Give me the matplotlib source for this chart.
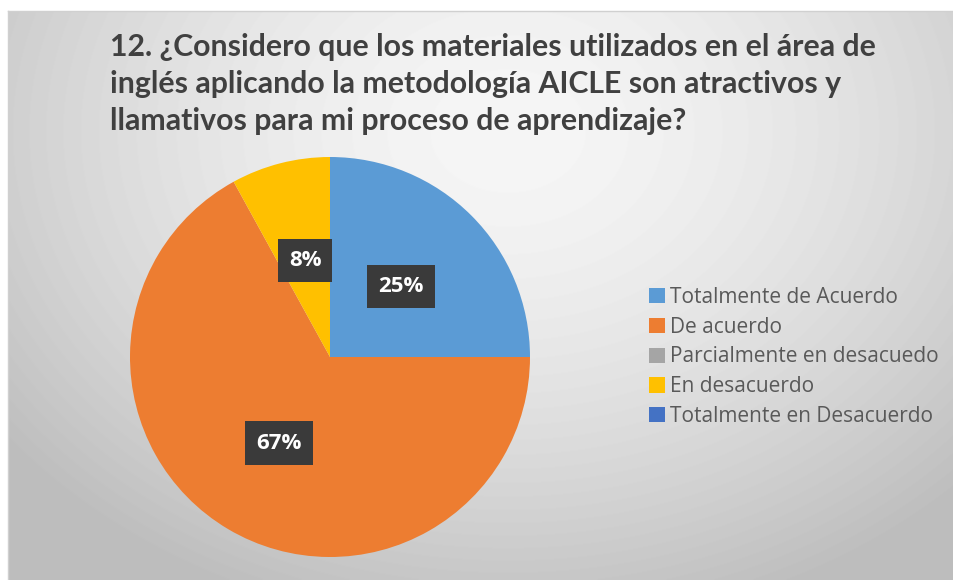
import numpy as np
import matplotlib
matplotlib.use('Agg')
import matplotlib.pyplot as plt

# --- data ---
categories = ['Totalmente de Acuerdo', 'De acuerdo', 'Parcialmente en desacuedo',
              'En desacuerdo', 'Totalmente en Desacuerdo']
percentages = [25, 67, 0, 8, 0]
colors = ['#5B9BD5', '#ED7D31', '#A5A5A5', '#FFC000', '#4472C4']
title = ('12. ¿Considero que los materiales utilizados en el área de\n'
         'inglés aplicando la metodología AICLE son atractivos y\n'
         'llamativos para mi proceso de aprendizaje?')

W, H = 954, 580
fig = plt.figure(figsize=(W / 100, H / 100), dpi=100, facecolor='white')

# background panel with soft radial gradient
bg = fig.add_axes([8 / W, 0, (W - 8) / W, (H - 11) / H])
yy, xx = np.mgrid[0:H - 11, 0:W - 8]
r = np.sqrt(((xx - 500) / 480.0) ** 2 + ((yy - 120) / 380.0) ** 2)
shade = np.clip(246 - 36 * r ** 1.6, 190, 250) / 255.0
bg.imshow(shade, cmap='gray', vmin=0, vmax=1, aspect='auto',
          extent=[0, 1, 0, 1], origin='upper')
bg.set_axis_off()
fig.add_artist(plt.Line2D([8 / W, 1], [1 - 11 / H, 1 - 11 / H],
                          color='#d0d0d0', linewidth=1))
fig.add_artist(plt.Line2D([8 / W, 8 / W], [0, 1 - 11 / H],
                          color='#d0d0d0', linewidth=1))

fig.text(110 / W, 1 - 33 / H, title, ha='left', va='top',
         fontsize=21.8, fontweight='bold', color='#404040',
         family='Lato', linespacing=1.4)

# pie
cx, cy, rad = 330, 357, 200
ax = fig.add_axes([(cx - rad) / W, (H - cy - rad) / H, 2 * rad / W, 2 * rad / H])
wedges, _, autotexts = ax.pie(
    percentages, colors=colors, startangle=90, counterclock=False,
    radius=1, pctdistance=0.5,
    autopct=lambda p: f'{p:.0f}%' if p > 0.5 else '',
    wedgeprops={'linewidth': 0})
for t in autotexts:
    t.set_color('white')
    t.set_fontsize(16)
    t.set_fontweight('bold')
    t.set_family('Open Sans')
    t.set_bbox(dict(boxstyle='square,pad=0.5', facecolor='#3a3a3a',
                    edgecolor='none'))
ax.set_xlim(-1, 1)
ax.set_ylim(-1, 1)
ax.set_aspect('auto')

leg = fig.legend(wedges, categories, loc='center left',
                 bbox_to_anchor=(649 / W, 1 - 357 / H), frameon=False,
                 prop={'family': 'Open Sans', 'size': 15},
                 handlelength=0.75, handleheight=0.75, handletextpad=0.25,
                 labelspacing=0.42, borderpad=0, borderaxespad=0)
for txt in leg.get_texts():
    txt.set_color('#595959')

fig.savefig('out.png', dpi=100, facecolor='white')
